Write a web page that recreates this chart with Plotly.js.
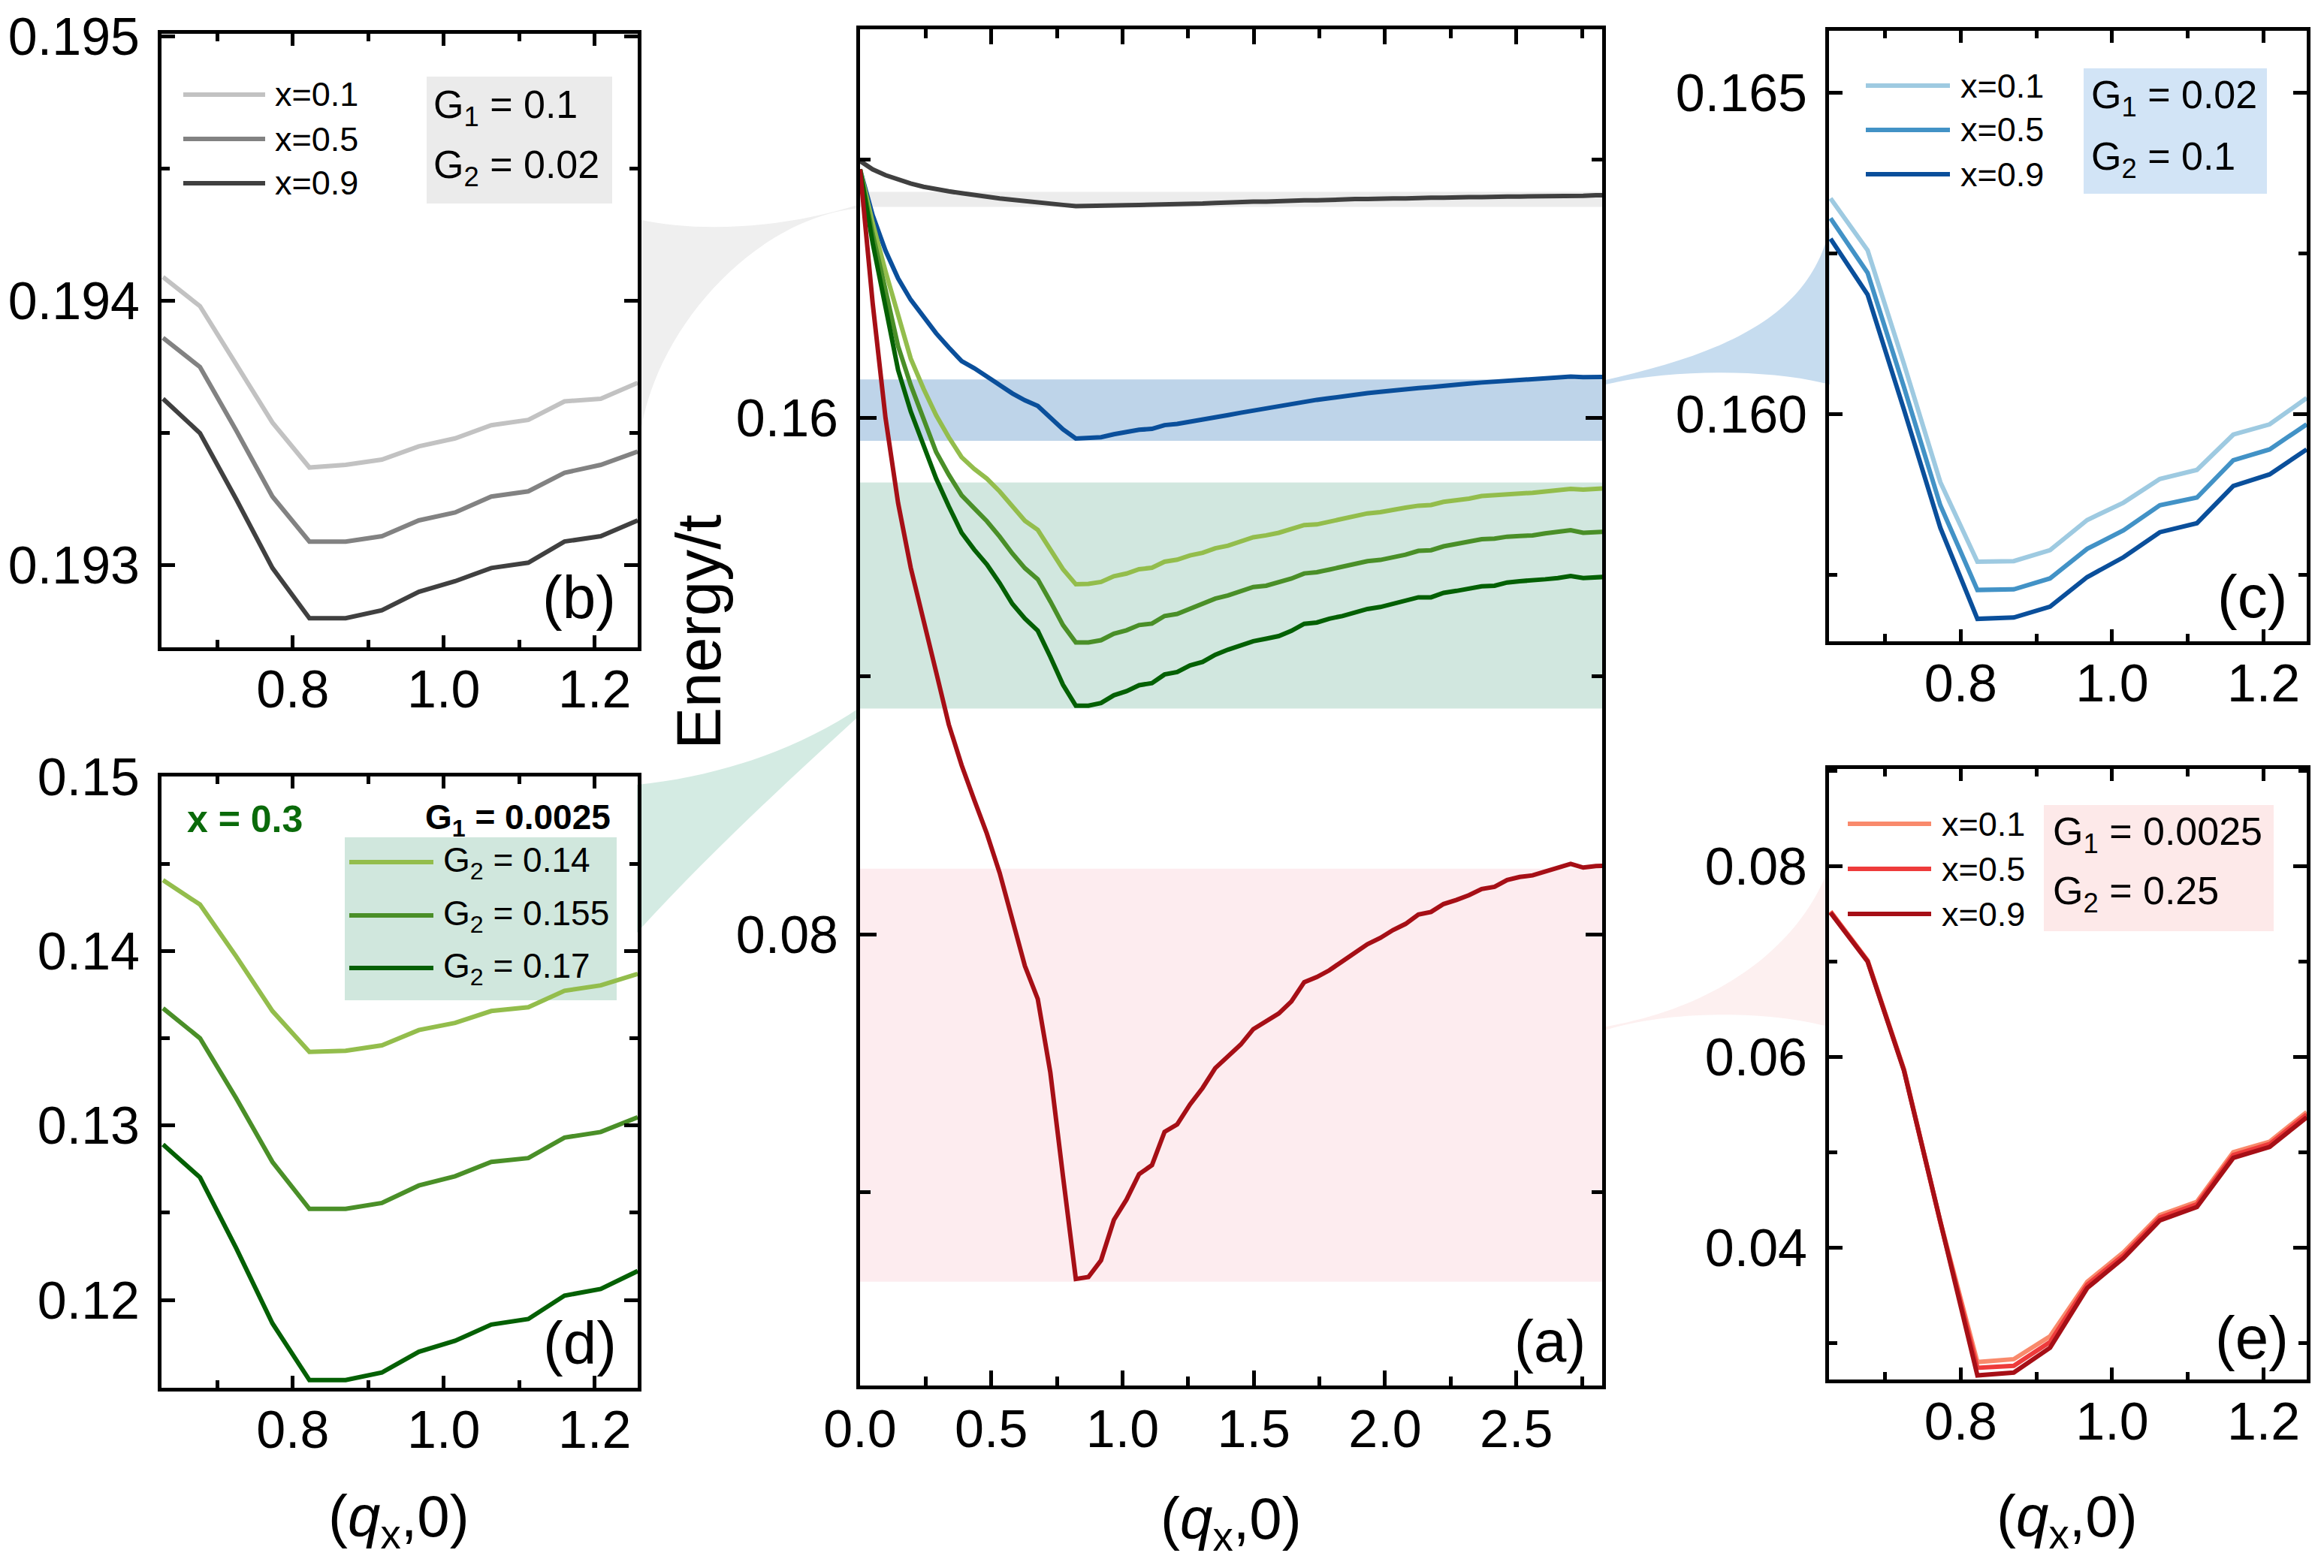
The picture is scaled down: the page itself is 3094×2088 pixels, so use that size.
<!DOCTYPE html>
<html><head><meta charset="utf-8">
<script src="https://cdn.plot.ly/plotly-3.0.1.min.js"></script>
<style>html,body{margin:0;padding:0;background:#fff}#plot{width:3094px;height:2088px}</style>
</head><body><div id="plot"></div>
<script>
// ---------- data ----------
const qMain = [0, 0.048, 0.097, 0.145, 0.193, 0.242, 0.290, 0.338, 0.387, 0.435, 0.483, 0.532, 0.580,
  0.628, 0.677, 0.725, 0.773, 0.822, 0.870, 0.918, 0.967, 1.015, 1.063, 1.112, 1.160, 1.208, 1.257,
  1.305, 1.353, 1.402, 1.450, 1.498, 1.547, 1.595, 1.643, 1.692, 1.740, 1.788, 1.837, 1.885, 1.933,
  1.982, 2.030, 2.078, 2.127, 2.175, 2.223, 2.272, 2.320, 2.368, 2.417, 2.465, 2.513, 2.562, 2.610,
  2.658, 2.707, 2.755, 2.803, 2.852];
const qZoom = [0.628, 0.677, 0.725, 0.773, 0.822, 0.870, 0.918, 0.967, 1.015, 1.063, 1.112, 1.160, 1.208, 1.257];

const greyMain = [0.1998, 0.1985, 0.1976, 0.1969, 0.1963, 0.1958, 0.1954, 0.1951, 0.1948, 0.1945, 0.1943, 0.1940, 0.1938,
  0.19363, 0.19350, 0.19325, 0.19299, 0.19280, 0.19280, 0.19283, 0.19290, 0.19294, 0.19299, 0.19301, 0.19309, 0.19311, 0.19317,
  0.1932, 0.1933, 0.1934, 0.1934, 0.1935, 0.1935, 0.1936, 0.1936, 0.1937, 0.1937, 0.1938, 0.1938, 0.1939, 0.1939, 0.1940,
  0.1940, 0.1940, 0.1941, 0.1941, 0.1941, 0.1942, 0.1942, 0.1942, 0.1943, 0.1943, 0.1943, 0.1943, 0.1944, 0.1944, 0.1944,
  0.1944, 0.1945, 0.1945];
const blueMain = [0.1985, 0.1914, 0.1859, 0.1816, 0.1783, 0.1756, 0.1731, 0.1709, 0.1688, 0.1677, 0.1665, 0.1651, 0.1638,
  0.16273, 0.16186, 0.16007, 0.15823, 0.15681, 0.15683, 0.15700, 0.15746, 0.15777, 0.15816, 0.15830, 0.15888, 0.15906, 0.15945,
  0.15975, 0.16010, 0.16044, 0.16080, 0.16114, 0.16150, 0.16189, 0.16222, 0.16258, 0.16280, 0.16305, 0.16335, 0.16363, 0.16383,
  0.16403, 0.16428, 0.16449, 0.16462, 0.16478, 0.16500, 0.16519, 0.16533, 0.16548, 0.16562, 0.16577, 0.16590, 0.16600, 0.16618,
  0.16635, 0.16640, 0.16630, 0.16632, 0.16635];
const greenG014Main = [0.1985, 0.1902, 0.1827, 0.1761, 0.1692, 0.1645, 0.1604, 0.1570, 0.1539, 0.1521, 0.1506, 0.1486, 0.1463,
  0.14406, 0.14266, 0.13969, 0.13656, 0.13422, 0.13428, 0.13459, 0.13547, 0.13588, 0.13656, 0.13678, 0.13772, 0.13803, 0.13869,
  0.1391, 0.1398, 0.1402, 0.1408, 0.1415, 0.1418, 0.1422, 0.1428, 0.1434, 0.1435, 0.1439, 0.1443, 0.1448, 0.1452,
  0.1454, 0.1458, 0.1461, 0.1464, 0.1465, 0.1470, 0.1472, 0.1475, 0.1479, 0.1480, 0.1482, 0.1483, 0.1484, 0.1486,
  0.1488, 0.1490, 0.1489, 0.1490, 0.1491];
const greenG0155Main = [0.1985, 0.1885, 0.1798, 0.1711, 0.1651, 0.1596, 0.1547, 0.1512, 0.1480, 0.1460, 0.1440, 0.1416, 0.1390,
  0.13672, 0.13500, 0.13156, 0.12791, 0.12522, 0.12522, 0.12556, 0.12656, 0.12709, 0.12791, 0.12813, 0.12931, 0.12963, 0.13047,
  0.1312, 0.1320, 0.1325, 0.1332, 0.1338, 0.1340, 0.1345, 0.1351, 0.1359, 0.1361, 0.1365, 0.1369, 0.1374, 0.1378,
  0.1380, 0.1384, 0.1388, 0.1394, 0.1395, 0.1401, 0.1405, 0.1409, 0.1412, 0.1413, 0.1416, 0.1417, 0.1418, 0.1421,
  0.1423, 0.1426, 0.1422, 0.1423, 0.1424];
const greenG017Main = [0.1985, 0.1871, 0.1772, 0.1674, 0.1610, 0.1555, 0.1506, 0.1463, 0.1422, 0.1396, 0.1373, 0.1344, 0.1312,
  0.12891, 0.12703, 0.12297, 0.11866, 0.11541, 0.11541, 0.11584, 0.11703, 0.11766, 0.11859, 0.11891, 0.12025, 0.12063, 0.12166,
  0.1222, 0.1233, 0.1241, 0.1247, 0.1254, 0.1258, 0.1262, 0.1270, 0.1281, 0.1283, 0.1289, 0.1293, 0.1299, 0.1304,
  0.1307, 0.1312, 0.1316, 0.1322, 0.1322, 0.1329, 0.1332, 0.1336, 0.1339, 0.1340, 0.1345, 0.1347, 0.1348, 0.1350,
  0.1352, 0.1355, 0.1352, 0.1353, 0.1354];
const redMain = [0.1985, 0.1778, 0.1600, 0.1468, 0.1368, 0.1283, 0.1206, 0.1125, 0.1062, 0.1008, 0.0956, 0.0895, 0.0823,
  0.07510, 0.06998, 0.05855, 0.04255, 0.02660, 0.02690, 0.02950, 0.03575, 0.03890, 0.04285, 0.04425, 0.04940, 0.05055, 0.05365,
  0.05620, 0.05927, 0.06105, 0.06291, 0.06531, 0.06652, 0.06773, 0.06959, 0.07258, 0.07338, 0.07443, 0.07581, 0.07717, 0.07846,
  0.07944, 0.08065, 0.08161, 0.08307, 0.08347, 0.08469, 0.08533, 0.08606, 0.08702, 0.08735, 0.08840, 0.08888, 0.08913, 0.08977,
  0.09026, 0.09090, 0.09034, 0.09058, 0.09060];

// panel (b): G1 = 0.1, G2 = 0.02
const bX01 = [0.19409, 0.19398, 0.19376, 0.19354, 0.19337, 0.19338, 0.19340, 0.19345, 0.19348, 0.19353, 0.19355, 0.19362, 0.19363, 0.19369];
const bX05 = [0.19386, 0.19375, 0.19351, 0.19326, 0.19309, 0.19309, 0.19311, 0.19317, 0.19320, 0.19326, 0.19328, 0.19335, 0.19338, 0.19343];
const bX09 = [0.19363, 0.19350, 0.19325, 0.19299, 0.19280, 0.19280, 0.19283, 0.19290, 0.19294, 0.19299, 0.19301, 0.19309, 0.19311, 0.19317];
// panel (c): G1 = 0.02, G2 = 0.1
const cX01 = [0.16336, 0.16255, 0.16078, 0.15894, 0.15770, 0.15771, 0.15788, 0.15835, 0.15862, 0.15899, 0.15913, 0.15968, 0.15984, 0.16025];
const cX05 = [0.16305, 0.16220, 0.16042, 0.15858, 0.15726, 0.15727, 0.15744, 0.15790, 0.15819, 0.15858, 0.15870, 0.15928, 0.15945, 0.15984];
const cX09 = [0.16273, 0.16186, 0.16007, 0.15823, 0.15681, 0.15683, 0.15700, 0.15746, 0.15777, 0.15816, 0.15830, 0.15888, 0.15906, 0.15945];
// panel (d): x = 0.3, G1 = 0.0025
const dG014 = [0.14406, 0.14266, 0.13969, 0.13656, 0.13422, 0.13428, 0.13459, 0.13547, 0.13588, 0.13656, 0.13678, 0.13772, 0.13803, 0.13869];
const dG0155 = [0.13672, 0.13500, 0.13156, 0.12791, 0.12522, 0.12522, 0.12556, 0.12656, 0.12709, 0.12791, 0.12813, 0.12931, 0.12963, 0.13047];
const dG017 = [0.12891, 0.12703, 0.12297, 0.11866, 0.11541, 0.11541, 0.11584, 0.11703, 0.11766, 0.11859, 0.11891, 0.12025, 0.12063, 0.12166];
// panel (e): G1 = 0.0025, G2 = 0.25
const eX01 = [0.07525, 0.07010, 0.05870, 0.04275, 0.02800, 0.02830, 0.03070, 0.03640, 0.03950, 0.04340, 0.04480, 0.05000, 0.05110, 0.05420];
const eX05 = [0.07518, 0.07005, 0.05862, 0.04265, 0.02740, 0.02760, 0.03010, 0.03610, 0.03920, 0.04315, 0.04455, 0.04970, 0.05085, 0.05395];
const eX09 = [0.07510, 0.06998, 0.05855, 0.04255, 0.02660, 0.02690, 0.02950, 0.03575, 0.03890, 0.04285, 0.04425, 0.04940, 0.05055, 0.05365];

// ---------- styling ----------
const W = 3094, H = 2088;
const F = 'Liberation Sans, Arial, Helvetica, sans-serif';
const px = x => x / W, py = y => 1 - y / H;

const C = {
  grey: ['#c2c2c2', '#828282', '#404040'],
  blue: ['#9ecae1', '#4292c6', '#0a4f9b'],
  green: ['#93bd4c', '#4a8f28', '#046004'],
  red: ['#f98a6c', '#ee3b3b', '#a60f16']
};

function line(x, y, color, xa, ya, w) {
  return {x: x, y: y, type: 'scatter', mode: 'lines', xaxis: xa, yaxis: ya,
    line: {color: color, width: w || 6}, hoverinfo: 'skip', showlegend: false};
}

const traces = [
  line(qMain, greyMain, C.grey[2], 'x', 'y', 6),
  line(qMain, blueMain, C.blue[2], 'x', 'y', 6),
  line(qMain, greenG014Main, C.green[0], 'x', 'y', 6),
  line(qMain, greenG0155Main, C.green[1], 'x', 'y', 6),
  line(qMain, greenG017Main, C.green[2], 'x', 'y', 6),
  line(qMain, redMain, C.red[2], 'x', 'y', 6),
  line(qZoom, bX01, C.grey[0], 'x2', 'y2'), line(qZoom, bX05, C.grey[1], 'x2', 'y2'), line(qZoom, bX09, C.grey[2], 'x2', 'y2'),
  line(qZoom, cX01, C.blue[0], 'x3', 'y3'), line(qZoom, cX05, C.blue[1], 'x3', 'y3'), line(qZoom, cX09, C.blue[2], 'x3', 'y3'),
  line(qZoom, dG014, C.green[0], 'x4', 'y4'), line(qZoom, dG0155, C.green[1], 'x4', 'y4'), line(qZoom, dG017, C.green[2], 'x4', 'y4'),
  line(qZoom, eX01, C.red[0], 'x5', 'y5'), line(qZoom, eX05, C.red[1], 'x5', 'y5'), line(qZoom, eX09, C.red[2], 'x5', 'y5')
];

function axis(domain, range, tick0, dtick, mdtick, fmt, anchor, len, mlen, standoff) {
  return {domain: domain, range: range, tick0: tick0, dtick: dtick, tickformat: fmt, anchor: anchor,
    showline: true, linewidth: 5, linecolor: '#000', mirror: 'allticks',
    ticks: 'inside', ticklen: len, tickwidth: 5, tickcolor: '#000',
    minor: {tick0: tick0, dtick: mdtick, ticks: 'inside', ticklen: mlen, tickwidth: 5, tickcolor: '#000', showgrid: false},
    showgrid: false, zeroline: false, fixedrange: true, ticklabelstandoff: standoff,
    tickfont: {family: F, size: 70, color: '#000'}};
}

const domXL = [px(215), px(849)], domXR = [px(2435), px(3071)];
const zoomRange = [0.626, 1.257];
const yrB = [0.19269, 0.19501], yrC = [0.15646, 0.16597], yrD = [0.11497, 0.15], yrE = [0.02617, 0.09017];

const layout = {
  width: W, height: H, autosize: false, showlegend: false,
  margin: {l: 0, r: 0, t: 0, b: 0, pad: 0},
  paper_bgcolor: '#ffffff', plot_bgcolor: 'rgba(0,0,0,0)',
  font: {family: F, color: '#000'},
  xaxis: axis([px(1145), px(2133)], [0, 2.827], 0, 0.5, 0.25, '.1f', 'y', 20, 12, -7),
  yaxis: axis([py(1845), py(39)], [0.0101, 0.2202], 0, 0.08, 0.04, '.2f', 'x', 22, 14, 10),
  xaxis2: axis(domXL, zoomRange, 0.8, 0.2, 0.1, '.1f', 'y2', 16, 10, -9),
  yaxis2: axis([py(862), py(45)], yrB, 0.193, 0.001, 0.0005, '.3f', 'x2', 18, 11, 10),
  xaxis3: axis(domXR, zoomRange, 0.8, 0.2, 0.1, '.1f', 'y3', 16, 10, -9),
  yaxis3: axis([py(854), py(41)], yrC, 0.16, 0.005, 0.0025, '.3f', 'x3', 18, 11, 10),
  xaxis4: axis(domXL, zoomRange, 0.8, 0.2, 0.1, '.1f', 'y4', 16, 10, -9),
  yaxis4: axis([py(1848), py(1034)], yrD, 0.12, 0.01, 0.005, '.2f', 'x4', 18, 11, 10),
  xaxis5: axis(domXR, zoomRange, 0.8, 0.2, 0.1, '.1f', 'y5', 16, 10, -9),
  yaxis5: axis([py(1837), py(1024)], yrE, 0.04, 0.02, 0.01, '.2f', 'x5', 18, 11, 10),
  shapes: [], annotations: []
};

// bands in main panel marking the zoomed windows
function band(yr, color) {
  return {type: 'rect', xref: 'x domain', yref: 'y', x0: 0, x1: 1, y0: yr[0], y1: yr[1],
    fillcolor: color, line: {width: 0}, layer: 'below'};
}
layout.shapes.push(band(yrB, '#ececec'), band(yrC, '#bed4e9'), band(yrD, '#d1e7df'), band(yrE, '#fdecef'));

// connector wedges (paper coordinates, pixels converted)
function wedge(cmds, color) {
  let d = '';
  cmds.forEach(c => {
    d += c[0];
    for (let i = 1; i < c.length; i += 2) d += ' ' + px(c[i]).toFixed(5) + ',' + py(c[i + 1]).toFixed(5);
    d += ' ';
  });
  return {type: 'path', xref: 'paper', yref: 'paper', path: d + 'Z', fillcolor: color, line: {width: 0}, layer: 'below'};
}
layout.shapes.push(
  wedge([['M', 850, 292], ['C', 930, 310, 1040, 305, 1145, 272], ['L', 1145, 277], ['C', 1000, 290, 860, 450, 850, 600]], '#efefef'),
  wedge([['M', 2133, 507], ['C', 2300, 470, 2410, 420, 2436, 303], ['L', 2436, 512], ['C', 2350, 490, 2220, 492, 2133, 513]], '#c6dcef'),
  wedge([['M', 848, 1045], ['C', 950, 1035, 1060, 1000, 1145, 942], ['L', 1145, 952], ['C', 1060, 1030, 950, 1130, 848, 1242]], '#d4ebe3'),
  wedge([['M', 2133, 1368], ['C', 2300, 1340, 2400, 1250, 2434, 1157], ['L', 2434, 1367], ['C', 2350, 1345, 2220, 1345, 2133, 1373]], '#fdf0f0')
);

// inset boxes
function rect(x0, y0, x1, y1, color) {
  return {type: 'rect', xref: 'paper', yref: 'paper', x0: px(x0), x1: px(x1), y0: py(y1), y1: py(y0),
    fillcolor: color, line: {width: 0}, layer: 'below'};
}
layout.shapes.push(rect(568, 102, 815, 271, '#ebebeb'), rect(2774, 91, 3018, 258, '#d2e4f6'),
  rect(459, 1115, 821, 1332, '#d0e7dd'), rect(2721, 1072, 3027, 1240, '#fde9e9'));

// legend sample lines
function seg(x0, x1, y, color) {
  return {type: 'line', xref: 'paper', yref: 'paper', x0: px(x0), x1: px(x1), y0: py(y), y1: py(y),
    line: {color: color, width: 6}, layer: 'above'};
}
[126, 185, 244].forEach((y, i) => layout.shapes.push(seg(244, 353, y, C.grey[i])));
[114, 173, 232].forEach((y, i) => layout.shapes.push(seg(2484, 2596, y, C.blue[i])));
[1148, 1219, 1289].forEach((y, i) => layout.shapes.push(seg(465, 577, y, C.green[i])));
[1097, 1157, 1217].forEach((y, i) => layout.shapes.push(seg(2460, 2571, y, C.red[i])));

// text
function txt(t, x, y, size, opts) {
  return Object.assign({text: t, x: px(x), y: py(y), xref: 'paper', yref: 'paper', showarrow: false,
    xanchor: 'left', yanchor: 'middle', font: {family: F, size: size, color: '#000'}}, opts || {});
}
const xLabels = ['x=0.1', 'x=0.5', 'x=0.9'];
const A = layout.annotations;
[126, 185, 244].forEach((y, i) => A.push(txt(xLabels[i], 364, y, 45)));
[114, 173, 232].forEach((y, i) => A.push(txt(xLabels[i], 2608, y, 45)));
[1097, 1157, 1217].forEach((y, i) => A.push(txt(xLabels[i], 2583, y, 45)));
const g2Labels = ['G<sub>2</sub> = 0.14', 'G<sub>2</sub> = 0.155', 'G<sub>2</sub> = 0.17'];
[1148, 1219, 1289].forEach((y, i) => A.push(txt(g2Labels[i], 588, y, 46)));

A.push(txt('G<sub>1</sub> = 0.1', 575, 143, 52), txt('G<sub>2</sub> = 0.02', 575, 223, 52));
A.push(txt('G<sub>1</sub> = 0.02', 2782, 130, 52), txt('G<sub>2</sub> = 0.1', 2782, 212, 52));
A.push(txt('G<sub>1</sub> = 0.0025', 2731, 1111, 52), txt('G<sub>2</sub> = 0.25', 2731, 1190, 52));
A.push(txt('<b>x = 0.3</b>', 247, 1091, 50, {font: {family: F, size: 50, color: '#0a6a0a'}}));
A.push(txt('<b>G<sub>1</sub> = 0.0025</b>', 815, 1091, 46, {xanchor: 'right'}));

A.push(txt('(a)', 2063, 1786, 78, {xanchor: 'center'}));
A.push(txt('(b)', 771, 795, 80, {xanchor: 'center'}));
A.push(txt('(c)', 2998, 794, 80, {xanchor: 'center'}));
A.push(txt('(d)', 772, 1788, 80, {xanchor: 'center'}));
A.push(txt('(e)', 2998, 1781, 80, {xanchor: 'center'}));

A.push(txt('Energy/t', 930, 842, 84, {xanchor: 'center', textangle: -90}));
const qTitle = '(<i>q</i><sub>x</sub>,0)';
A.push(txt(qTitle, 531, 2024, 78, {xanchor: 'center'}));
A.push(txt(qTitle, 1639, 2027, 78, {xanchor: 'center'}));
A.push(txt(qTitle, 2752, 2024, 78, {xanchor: 'center'}));

Plotly.newPlot('plot', traces, layout, {staticPlot: true, displayModeBar: false});
</script></body></html>
